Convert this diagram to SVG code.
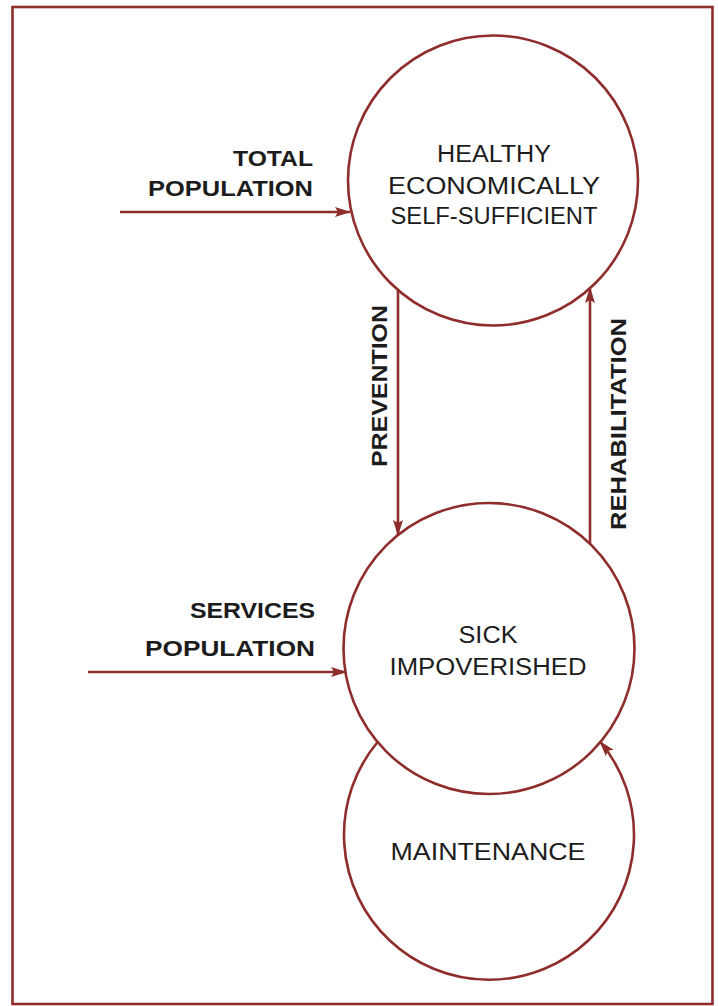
<svg xmlns="http://www.w3.org/2000/svg" width="718" height="1006" viewBox="0 0 718 1006">
  <style>
    .ln { fill: none; stroke: #8e2d2c; stroke-width: 2.6; }
    .node { fill: none; stroke: #8e2d2c; stroke-width: 2.6; }
    .t { font-family: "Liberation Sans", Arial, sans-serif; font-size: 23px; fill: #1c1c1c; text-anchor: middle; }
    .b { font-family: "Liberation Sans", Arial, sans-serif; font-size: 22px; font-weight: bold; fill: #1c1c1c; }
  </style>
  <defs>
    <marker id="arrow" markerUnits="userSpaceOnUse" markerWidth="16" markerHeight="12" viewBox="0 0 16 12" refX="15" refY="6" orient="auto">
      <path d="M0,1 L16,6 L0,11 L3,6 Z" fill="#8e2d2c"/>
    </marker>
  </defs>

  <rect width="718" height="1006" fill="#ffffff"/>
  <!-- outer frame -->
  <rect x="12.5" y="7" width="700" height="997" fill="none" stroke="#8e2d2c" stroke-width="2.6"/>

  <g id="connectors">
    <!-- total population inflow -->
    <line class="ln" x1="120" y1="212" x2="350" y2="212" marker-end="url(#arrow)"/>
    <!-- services population inflow -->
    <line class="ln" x1="88" y1="672" x2="346" y2="672" marker-end="url(#arrow)"/>
    <!-- prevention -->
    <line class="ln" x1="398" y1="290" x2="398" y2="535" marker-end="url(#arrow)"/>
    <!-- rehabilitation -->
    <line class="ln" x1="590" y1="544" x2="590" y2="288" marker-end="url(#arrow)"/>
    <!-- maintenance loop: lower arc back into the sick circle -->
    <path class="ln" d="M378,741.5 A145,145 0 1 0 600,741.5" marker-end="url(#arrow)"/>
  </g>

  <g id="node-healthy">
    <circle class="node" cx="493" cy="180.5" r="145"/>
    <text class="t" x="494" y="162" textLength="114" lengthAdjust="spacingAndGlyphs">HEALTHY</text>
    <text class="t" x="494" y="194" textLength="212" lengthAdjust="spacingAndGlyphs">ECONOMICALLY</text>
    <text class="t" x="494" y="224" textLength="207" lengthAdjust="spacingAndGlyphs">SELF-SUFFICIENT</text>
  </g>

  <g id="node-sick">
    <circle class="node" cx="489" cy="648.5" r="145.5"/>
    <text class="t" x="488" y="643" textLength="59" lengthAdjust="spacingAndGlyphs">SICK</text>
    <text class="t" x="488" y="675" textLength="197" lengthAdjust="spacingAndGlyphs">IMPOVERISHED</text>
  </g>

  <g id="node-maintenance">
    <text class="t" x="488" y="860" textLength="195" lengthAdjust="spacingAndGlyphs">MAINTENANCE</text>
  </g>

  <g id="label-total">
    <text class="b" x="313" y="166" text-anchor="end" textLength="80" lengthAdjust="spacingAndGlyphs">TOTAL</text>
    <text class="b" x="313" y="196" text-anchor="end" textLength="165" lengthAdjust="spacingAndGlyphs">POPULATION</text>
  </g>

  <g id="label-services">
    <text class="b" x="315" y="618" text-anchor="end" textLength="125" lengthAdjust="spacingAndGlyphs">SERVICES</text>
    <text class="b" x="315" y="656" text-anchor="end" textLength="170" lengthAdjust="spacingAndGlyphs">POPULATION</text>
  </g>

  <g id="label-prevention">
    <text class="b" transform="translate(387,386) rotate(-90)" text-anchor="middle" textLength="162" lengthAdjust="spacingAndGlyphs">PREVENTION</text>
  </g>

  <g id="label-rehabilitation">
    <text class="b" transform="translate(626,424) rotate(-90)" text-anchor="middle" textLength="212" lengthAdjust="spacingAndGlyphs">REHABILITATION</text>
  </g>
</svg>
